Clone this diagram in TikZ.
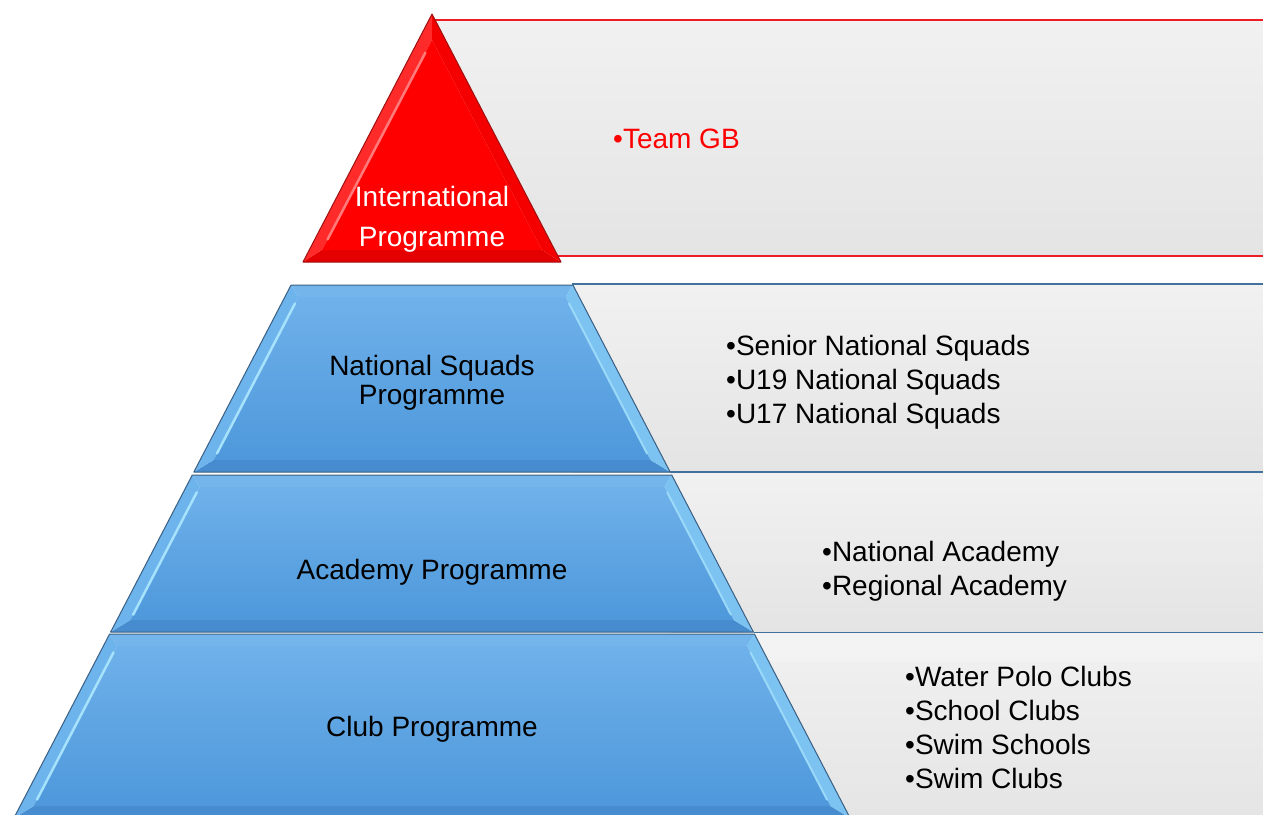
\documentclass[tikz,border=0pt]{standalone}
\usepackage{fontspec}
\setmainfont{Liberation Sans}
\usetikzlibrary{calc}

\definecolor{panellight}{HTML}{F1F1F1}
\definecolor{panelgray}{HTML}{E4E4E4}
\definecolor{panelline}{HTML}{41719C}
\definecolor{panelred}{HTML}{EE1C24}
\definecolor{tiertop}{HTML}{6FB1EA}
\definecolor{tierbot}{HTML}{4E98DB}
\definecolor{tieredge}{HTML}{3A5F82}
\definecolor{bevtop}{HTML}{74B6EC}
\definecolor{bevbot}{HTML}{468CCF}
\definecolor{bevleft}{HTML}{6DB3EC}
\definecolor{bevright}{HTML}{7DC3F2}
\definecolor{bevhi}{HTML}{A6E2FB}
\definecolor{redface}{HTML}{FF0000}
\definecolor{redleft}{HTML}{FF2A2A}
\definecolor{redhi}{HTML}{FF7A7A}
\definecolor{redright}{HTML}{F40000}
\definecolor{redbot}{HTML}{E40000}
\definecolor{rededge}{HTML}{A01010}

\tikzset{
  tierlabel/.style={inner sep=0pt, align=center, font=\fontsize{28}{29}\selectfont},
  listtext/.style={inner sep=0pt, anchor=west, align=left, font=\fontsize{28}{34}\selectfont},
  panelfill/.style={top color=panellight, bottom color=panelgray},
  panelrule/.style={draw=panelline, line width=1.5pt},
  redrule/.style={draw=panelred, line width=2pt},
}

% x of the pyramid's right flank at height y
\newcommand\flankx[1]{432+0.52*(#1-14)}

% One bevelled slice of the pyramid between two heights (top y, bottom y)
\newcommand\drawtier[2]{%
  \pgfmathsetmacro\wT{0.52*(#1-14)}%
  \pgfmathsetmacro\wB{0.52*(#2-14)}%
  \pgfmathsetmacro\yT{#1+12}%
  \pgfmathsetmacro\yB{#2-12}%
  \pgfmathsetmacro\iT{0.52*(\yT-14)-13.5}%
  \pgfmathsetmacro\iB{0.52*(\yB-14)-13.5}%
  \coordinate (oTL) at (432-\wT,#1);
  \coordinate (oTR) at (432+\wT,#1);
  \coordinate (oBR) at (432+\wB,#2);
  \coordinate (oBL) at (432-\wB,#2);
  \coordinate (iTL) at (432-\iT,\yT);
  \coordinate (iTR) at (432+\iT,\yT);
  \coordinate (iBR) at (432+\iB,\yB);
  \coordinate (iBL) at (432-\iB,\yB);
  \fill[bevtop] (oTL) -- (oTR) -- (iTR) -- (iTL) -- cycle;
  \fill[bevbot] (oBL) -- (oBR) -- (iBR) -- (iBL) -- cycle;
  \fill[bevleft] (oTL) -- (iTL) -- (iBL) -- (oBL) -- cycle;
  \fill[bevright] (oTR) -- (iTR) -- (iBR) -- (oBR) -- cycle;
  \shade[top color=tiertop, bottom color=tierbot] (iTL) -- (iTR) -- (iBR) -- (iBL) -- cycle;
  \draw[bevhi, line width=2.5pt, line cap=round] ($(iTL)!0.04!(iBL)$) -- ($(iTL)!0.96!(iBL)$);
  \draw[bevhi!70!bevright, line width=2pt, line cap=round] ($(iTR)!0.04!(iBR)$) -- ($(iTR)!0.96!(iBR)$);
  \draw[tieredge, line width=1pt, line join=round] (oTL) -- (oTR) -- (oBR) -- (oBL) -- cycle;
}

\begin{document}
\begin{tikzpicture}[x=1pt, y=-1pt]
\useasboundingbox (0,0) rectangle (1263,814);
\clip (0,0) rectangle (1263,814);

% grey text panels behind the pyramid
\fill[panelfill] (432,20) rectangle (1275,256);
\draw[redrule] ({\flankx{20}},20) -- (1275,20);
\draw[redrule] ({\flankx{256}},256) -- (1275,256);

\fill[panelfill] ({\flankx{284}},284) rectangle (1275,472);
\fill[panelfill] ({\flankx{473}},473) rectangle (1275,632);
\fill[panelfill] ({\flankx{633}},633) rectangle (1275,830);
\fill[white, opacity=0.2] ({\flankx{633}},633) rectangle (1275,662);
\draw[panelrule] ({\flankx{284}},284) -- (1275,284);
\draw[panelrule] ({\flankx{472}},472) -- (1275,472);
\draw[panelrule] ({\flankx{632.5}},632.5) -- (1275,632.5);

% top of the pyramid: red triangle with bevel
\coordinate (rA) at (432,14);
\coordinate (rL) at (303,262);
\coordinate (rR) at (561,262);
\coordinate (ra) at (432,40);
\coordinate (rl) at (322,250);
\coordinate (rr) at (542,250);
\fill[redleft] (rA) -- (ra) -- (rl) -- (rL) -- cycle;
\fill[redright] (rA) -- (ra) -- (rr) -- (rR) -- cycle;
\fill[redbot] (rL) -- (rl) -- (rr) -- (rR) -- cycle;
\fill[redface] (ra) -- (rl) -- (rr) -- cycle;
\draw[redhi, line width=2.5pt, line cap=round] ($(ra)!0.06!(rl)$) -- ($(ra)!0.95!(rl)$);
\draw[rededge, line width=1pt, line join=round] (rA) -- (rR) -- (rL) -- cycle;

% blue slices
\drawtier{285}{472}
\drawtier{475}{632}
\drawtier{634}{818}

% pyramid labels
\node[tierlabel, text=white, font=\fontsize{28}{40}\selectfont] (intl) at (432,219.5) {International\\Programme};
\node[tierlabel] (natsq) at (432,382.5) {National Squads\\Programme};
\node[tierlabel] (acad) at (432,572) {Academy Programme};
\node[tierlabel] (club) at (432,729) {Club Programme};

% panel lists
\node[listtext, text=red] (teamgb) at (613,139) {•Team GB};
\node[listtext] (natlist) at (726,382) {•Senior National Squads\\•U19 National Squads\\•U17 National Squads};
\node[listtext] (acadlist) at (822,571) {•National Academy\\•Regional Academy};
\node[listtext] (clublist) at (905,727) {•Water Polo Clubs\\•School Clubs\\•Swim Schools\\•Swim Clubs};
\end{tikzpicture}
\end{document}
